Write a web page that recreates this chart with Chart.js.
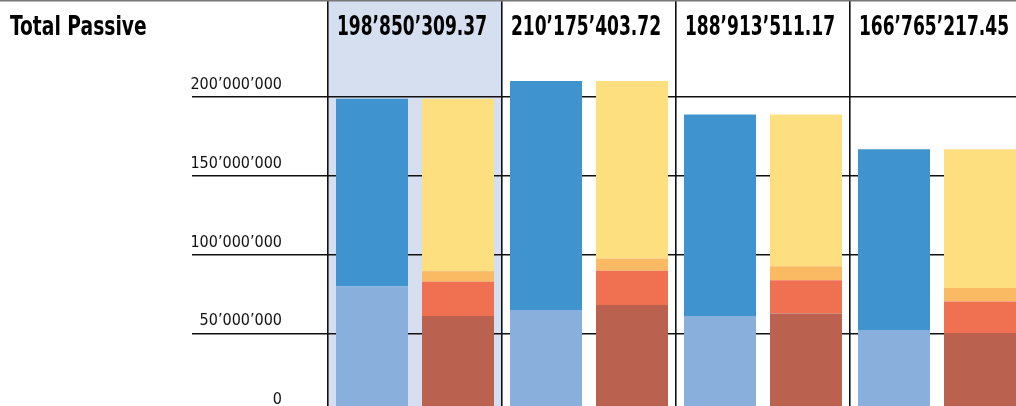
<!DOCTYPE html>
<html>
<head>
<meta charset="utf-8">
<script src="https://cdn.jsdelivr.net/npm/chart.js@4"></script>
<style>
  html, body { margin: 0; padding: 0; background: #fff; overflow: hidden; }
  #wrap { width: 1016px; height: 406px; overflow: hidden; position: relative; }
  canvas { display: block; }
</style>
</head>
<body>
<div id="wrap"><canvas id="chart" width="1024" height="412"></canvas></div>
<script>
const periods = ['P1', 'P2', 'P3', 'P4'];
const totals = [198850309.37, 210175403.72, 188913511.17, 166765217.45];

// assets stack (bottom to top)
const assetsLight = [79900000, 64700000, 60900000, 52000000];
const assetsDark = [118950000, 145480000, 128010000, 114770000];

// passive stack (bottom to top)
const passiveBrown = [61000000, 67900000, 62600000, 50100000];
const passiveRed = [21700000, 21800000, 21100000, 20100000];
const passiveOrange = [6600000, 7800000, 8900000, 8500000];
const passiveYellow = [109550000, 112680000, 96310000, 88070000];

const yTicks = [0, 50000000, 100000000, 150000000, 200000000];
const headerTitle = 'Total Passive';
const highlightIndex = 0;

const fontFamily = '"DejaVu Sans Condensed", "Noto Sans", sans-serif';

function swiss(n, decimals) {
  const parts = n.toFixed(decimals).split('.');
  parts[0] = parts[0].replace(/\B(?=(\d{3})+(?!\d))/g, '\u2019');
  return parts.join('.');
}

const bar = (label, data, stack, color) => ({
  label, data, stack,
  backgroundColor: color,
  borderWidth: 0,
  categoryPercentage: 0.9885,
  barPercentage: 0.8372,
});

// narrow bold header text, squeezed horizontally
function headerText(ctx, text, x, y, align, sx) {
  ctx.save();
  ctx.translate(x, y);
  ctx.scale(sx, 1);
  ctx.textAlign = align;
  ctx.fillText(text, 0, 0);
  ctx.restore();
}

const columnPlugin = {
  id: 'columns',
  beforeDraw(chart) {
    const { ctx, scales: { x }, chartArea } = chart;
    const w = x.getPixelForValue(1) - x.getPixelForValue(0);
    const cx = x.getPixelForValue(highlightIndex);
    ctx.save();
    ctx.fillStyle = '#d5dff0';
    ctx.fillRect(cx - w / 2, chartArea.top, w - 1, chartArea.bottom - chartArea.top);
    ctx.restore();
  },
  afterDraw(chart) {
    const { ctx, scales: { x } } = chart;
    ctx.save();
    ctx.fillStyle = '#000';
    ctx.textBaseline = 'alphabetic';
    ctx.font = 'bold 26px ' + fontFamily;
    headerText(ctx, headerTitle, 10, 35, 'left', 0.8);
    totals.forEach((t, i) => {
      headerText(ctx, swiss(t, 2), x.getPixelForValue(i) - 3, 35, 'center', 0.73);
    });
    ctx.fillStyle = '#777';
    ctx.fillRect(0, 0, chart.width, 1.5);
    ctx.restore();
  }
};

new Chart(document.getElementById('chart'), {
  type: 'bar',
  data: {
    labels: periods,
    datasets: [
      bar('Assets light', assetsLight, 'assets', '#89b0dd'),
      bar('Assets dark', assetsDark, 'assets', '#3f94cf'),
      bar('Passive brown', passiveBrown, 'passive', '#ba614f'),
      bar('Passive red', passiveRed, 'passive', '#f07052'),
      bar('Passive orange', passiveOrange, 'passive', '#fab963'),
      bar('Passive yellow', passiveYellow, 'passive', '#fedf80'),
    ],
  },
  options: {
    responsive: false,
    animation: false,
    layout: { padding: 0 },
    plugins: { legend: { display: false }, tooltip: { enabled: false } },
    scales: {
      x: {
        stacked: true,
        offset: true,
        grid: { offset: true, color: '#111', lineWidth: 1.6, drawTicks: false },
        border: { display: false },
        ticks: { display: false },
        afterFit(scale) { scale.height = 0; },
      },
      y: {
        stacked: true,
        min: 0,
        max: 261600000,
        afterBuildTicks(scale) {
          scale.ticks = yTicks.map(v => ({ value: v }));
        },
        grid: { color: '#111', lineWidth: 1.4, tickLength: 136 },
        border: { display: false },
        ticks: {
          padding: -90,
          labelOffset: -12,
          color: '#111',
          font: { family: fontFamily, size: 16 },
          callback: v => swiss(v, 0),
        },
        afterFit(scale) {
          scale.width = 328;
          scale.paddingTop = 0;
          scale.paddingBottom = 0;
        },
      },
    },
  },
  plugins: [columnPlugin],
});
</script>
</body>
</html>
